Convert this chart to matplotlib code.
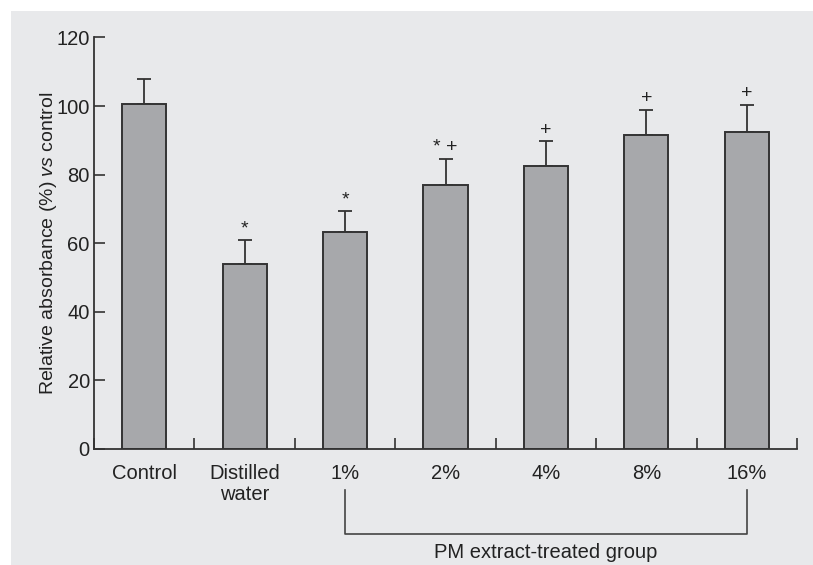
import matplotlib.pyplot as plt
from matplotlib.patches import Rectangle

# data
groups = ['Control', 'Distilled\nwater', '1%', '2%', '4%', '8%', '16%']
means = [100.5, 53.8, 63.4, 77.0, 82.5, 91.6, 92.5]
errs = [7.4, 7.1, 6.0, 7.6, 7.2, 7.3, 7.9]
marks = ['', '*', '*', '* +', '+', '+', '+']
bracket_from = 2
bracket_to = 6
bracket_label = 'PM extract-treated group'

bg = '#e8e9eb'
plt.rcParams['font.family'] = ['Liberation Sans', 'DejaVu Sans']
plt.rcParams['mathtext.fontset'] = 'custom'
plt.rcParams['mathtext.rm'] = 'Liberation Sans'
plt.rcParams['mathtext.it'] = 'Liberation Sans:italic'

fig = plt.figure(figsize=(8.13, 5.65), dpi=100)
fig.patch.set_facecolor('white')
fig.patches.append(Rectangle((11/813, 0), 1, 1 - 11/565, transform=fig.transFigure,
                             facecolor=bg, edgecolor='none', zorder=-10))

ax = fig.add_axes([94/813, 116/565, 703/813, 411.6/565])
ax.set_facecolor('none')

x = list(range(len(groups)))
ax.bar(x, means, width=0.44, color='#a7a8ab', edgecolor='#333333', linewidth=1.4, zorder=2)
ax.errorbar(x, means, yerr=[[0]*len(errs), errs], fmt='none', ecolor='#333333',
            elinewidth=1.3, capsize=5, capthick=1.3, zorder=1)

for xi, m, e, s in zip(x, means, errs, marks):
    if s:
        ax.text(xi, m + e + 0.8, s, ha='center', va='bottom',
                fontsize=14, color='#222222')

ax.set_xlim(-0.5, len(groups) - 0.5)
ax.set_ylim(0, 120)
ax.set_yticks(range(0, 121, 20))
ax.set_xticks([i + 0.5 for i in range(-1, len(groups))])
ax.set_xticklabels([])
ax.tick_params(axis='both', direction='in', length=8, width=1.2, color='#333333',
               labelsize=14.5, labelcolor='#222222')
ax.tick_params(axis='y', pad=3)
for side in ['top', 'right']:
    ax.spines[side].set_visible(False)
for side in ['left', 'bottom']:
    ax.spines[side].set_linewidth(1.3)
    ax.spines[side].set_color('#333333')

for xi, g in zip(x, groups):
    ax.text(xi, -4.3, g, ha='center', va='top', fontsize=14.5, color='#222222',
            linespacing=1.15)

ax.set_ylabel(r'Relative absorbance (%) $\it{vs}$ control', fontsize=14,
              color='#222222')
ax.yaxis.set_label_coords(-0.05, 0.5)

# bracket under the PM groups
ax.plot([bracket_from, bracket_from, bracket_to, bracket_to], [-12, -24.8, -24.8, -12],
        color='#444444', lw=1.2, clip_on=False)
ax.text((bracket_from + bracket_to) / 2, -27.3, bracket_label, ha='center', va='top',
        fontsize=14.5, color='#222222')

fig.savefig('out.png', dpi=100)
